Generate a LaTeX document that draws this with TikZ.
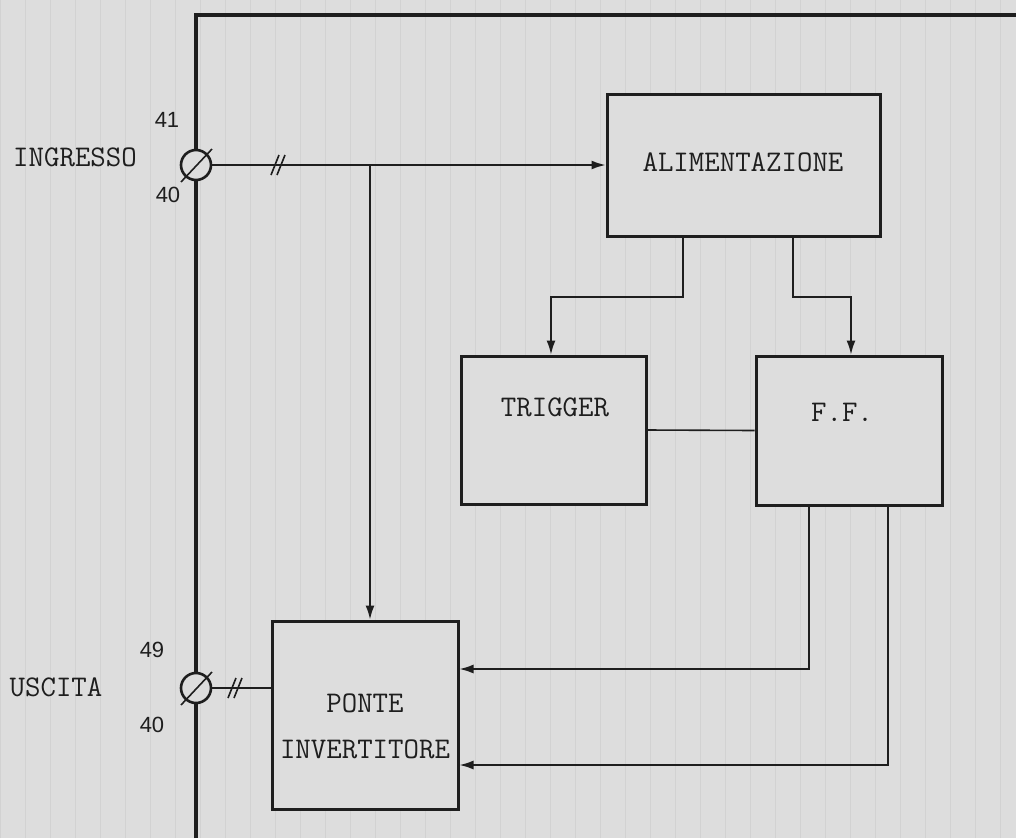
\documentclass[tikz,border=0pt]{standalone}
\usepackage{fontspec}
\usetikzlibrary{arrows.meta,calc}
\newfontfamily\numfont{Liberation Sans}
\definecolor{paper}{RGB}{221,221,221}
\definecolor{gridc}{RGB}{210,210,210}
\definecolor{ink}{RGB}{30,30,30}
\tikzset{
  blk/.style={draw=ink, line width=3pt, fill=paper, inner sep=0pt},
  lbl/.style={font=\ttfamily\fontsize{30}{46}\selectfont, text=ink, inner sep=0pt, align=center},
  num/.style={font=\numfont\fontsize{22}{26}\selectfont, text=ink, inner sep=0pt},
  wire/.style={draw=ink, line width=1.6pt},
  arr/.style={wire, -{Latex[length=14pt,width=9pt]}},
  term/.style={circle, draw=ink, line width=2.6pt, fill=paper, minimum size=30pt, inner sep=0pt},
  frame/.style={draw=ink, line width=4pt},
  tick/.style={draw=ink, line width=1.6pt}
}
\begin{document}
\begin{tikzpicture}[x=1pt,y=-1pt]
\useasboundingbox (0,0) rectangle (1016,838);
\fill[paper] (0,0) rectangle (1016,838);
\draw[gridc, line width=0.8pt, step=25] (0,0) grid (1016,838);

% frame
\draw[frame] (196,838) -- (196,15) -- (1016,15);

% blocks
\node[blk, minimum width=273, minimum height=142] (alim) at (743.5,165) {};
\node[lbl] (talim) at (743,162) {ALIMENTAZIONE};
\node[blk, minimum width=185, minimum height=148] (trig) at (553.5,430) {};
\node[lbl] (ttrig) at (555,407) {TRIGGER};
\node[blk, minimum width=186, minimum height=149] (ff) at (849,430.5) {};
\node[lbl] (tff) at (842,412) {F.F.};
\node[blk, minimum width=186, minimum height=188] (ponte) at (365,715) {};
\node[lbl] (tponte) at (365,726) {PONTE\\INVERTITORE};

% terminals
\node[term] (tin) at (196,165) {};
\draw[tick] ($(tin)+(-15,17)$) -- ($(tin)+(16,-16)$);
\node[term] (tout) at (196,688) {};

% labels
\node[lbl] (ingresso) at (75,157) {INGRESSO};
\node[num] (n41) at (167,120) {41};
\node[num] (n40a) at (168,195) {40};
\node[lbl] (uscita) at (56,687) {USCITA};
\node[num] (n49) at (152,650) {49};
\node[num] (n40b) at (152,725) {40};

% coordinates
\coordinate (br) at (370,165);
\coordinate (a1) at (683,236);
\coordinate (a1m) at (683,297);
\coordinate (a1n) at (551,297);
\coordinate (a2) at (793,236);
\coordinate (a2m) at (793,297);
\coordinate (a2n) at (851,297);
\coordinate (f1) at (809,505);
\coordinate (f1m) at (809,669);
\coordinate (f2) at (888,505);
\coordinate (f2m) at (888,765);

% connectors
\draw[arr] (tin.east) -- (alim.west);
\draw[arr] (br) -- (br |- ponte.north);
\draw[arr] (a1) -- (a1m) -- (a1n) -- (a1n |- trig.north);
\draw[arr] (a2) -- (a2m) -- (a2n) -- (a2n |- ff.north);
\draw[wire] (trig.east) -- (ff.west);
\draw[arr] (f1) -- (f1m) -- (f1m -| ponte.east);
\draw[arr] (f2) -- (f2m) -- (f2m -| ponte.east);
\draw[wire] (tout.east) -- (tout.east -| ponte.west);

% redraw terminal slash on output
\draw[tick] ($(tout)+(-15,17)$) -- ($(tout)+(16,-16)$);

% double slash marks
\draw[tick] (271,175) -- (279,155);
\draw[tick] (277,175) -- (285,155);
\draw[tick] (228,698) -- (236,678);
\draw[tick] (234,698) -- (242,678);
\end{tikzpicture}
\end{document}
